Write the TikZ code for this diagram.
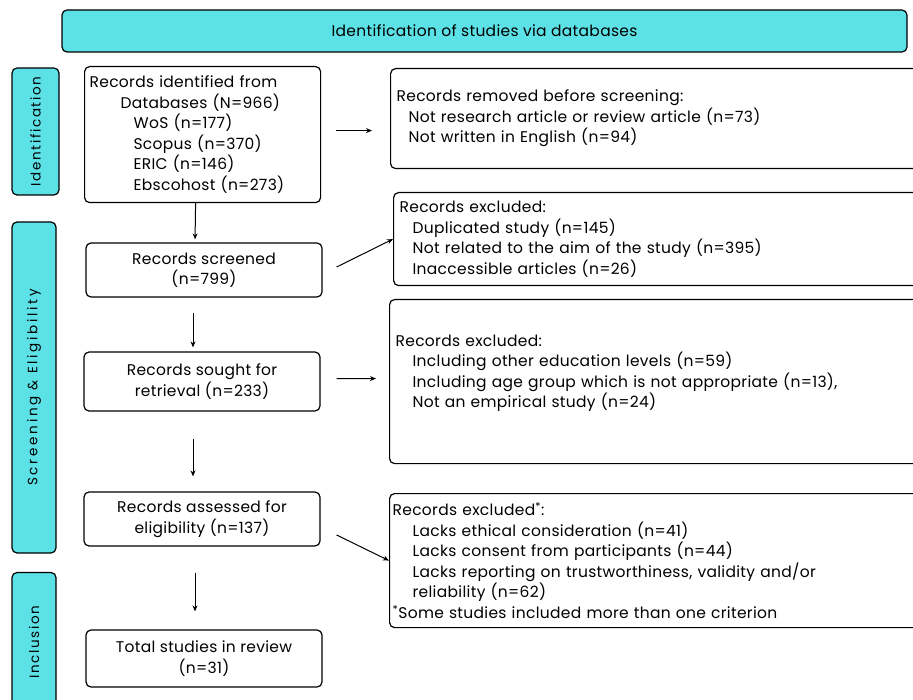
\documentclass[tikz,border=0pt]{standalone}
\usepackage{fontspec}
\setmainfont{Poppins}[LetterSpace=2]
\newfontfamily\sidefont[LetterSpace=12]{Poppins}
\usetikzlibrary{arrows.meta,positioning}
\definecolor{barcyan}{HTML}{5CE1E6}
\newcommand{\ind}[1]{\hspace*{#1pt}}

\begin{document}
\begin{tikzpicture}[x=1pt,y=-1pt,
  box/.style={draw,line width=1.2pt,rounded corners=5pt,fill=white,inner sep=0pt,font=\fontsize{15.5}{20.5}\selectfont},
  leftbox/.style={box,minimum width=236pt,align=center},
  rightbox/.style={box,anchor=north west,minimum width=560pt,text width=548pt,align=left,inner xsep=6pt},
  bar/.style={draw,line width=1.2pt,rounded corners=5pt,fill=barcyan,rotate=90,inner sep=0pt,font=\sidefont\fontsize{13.5}{15}\selectfont},
  arr/.style={-{Stealth[length=6pt,width=5pt]},line width=1pt}]
\useasboundingbox (0,0) rectangle (913,700);

\node [box,fill=barcyan,minimum width=845pt,minimum height=42pt] (banner) at (484.5,31) {Identification of studies via databases};

\node [bar,minimum width=127pt,minimum height=47pt] (idbar) at (35.5,131.5) {Identification};
\node [bar,minimum width=331pt,minimum height=44pt] (scbar) at (34,387.5) {\addfontfeature{LetterSpace=20}Screening \& Eligibility};
\node [bar,minimum width=139pt,minimum height=44pt] (inbar) at (34,642) {Inclusion};

\node [box,anchor=north west,minimum width=236pt,minimum height=136pt,text width=226pt,align=left,inner xsep=5pt] (ident) at (84,66)
  {Records identified from\\ \ind{31}Databases (N=966)\\ \ind{44}WoS (n=177)\\ \ind{44}Scopus (n=370)\\ \ind{44}ERIC (n=146)\\ \ind{44}Ebscohost (n=273)};
\node [leftbox,minimum height=54pt] (screen) at (204,270) {Records screened\\(n=799)};
\node [leftbox,minimum height=59pt] (sought) at (202,381.5) {Records sought for\\retrieval (n=233)};
\node [leftbox,minimum height=54pt] (assess) at (202,519) {Records assessed for\\eligibility (n=137)};
\node [leftbox,minimum height=57pt] (total) at (204,658.5) {Total studies in review\\(n=31)};

\node [rightbox,minimum height=100pt] (removed) at (390,68)
  {Records removed before screening:\\ \ind{12}Not research article or review article (n=73)\\ \ind{12}Not written in English (n=94)};
\node [rightbox,minimum height=93pt] (excl1) at (393,192)
  {Records excluded:\\ \ind{13}Duplicated study (n=145)\\ \ind{13}Not related to the aim of the study (n=395)\\ \ind{13}Inaccessible articles (n=26)};
\node [rightbox,minimum height=164pt] (excl2) at (389,299)
  {Records excluded:\\ \ind{17}Including other education levels (n=59)\\ \ind{17}Including age group which is not appropriate (n=13),\\ \ind{17}Not an empirical study (n=24)\\ ~};
\node [rightbox,minimum height=134pt,inner xsep=3pt,text width=554pt] (excl3) at (389,493)
  {Records excluded\textsuperscript{*}:\\ \ind{20}Lacks ethical consideration (n=41)\\ \ind{20}Lacks consent from participants (n=44)\\ \ind{20}Lacks reporting on trustworthiness, validity and/or\\ \ind{20}reliability (n=62)\\ \textsuperscript{*}Some studies included more than one criterion};

\draw [arr,shorten <=15pt,shorten >=18pt] ([yshift=4pt]ident.east) -- ([yshift=-12pt]removed.west);
\draw [arr,shorten >=3pt] ([xshift=-7pt]ident.south) -- ([xshift=-9pt]screen.north);
\draw [arr] ([xshift=14pt,yshift=3pt]screen.east) -- (excl1.west);
\draw [arr,shorten <=15pt,shorten >=4pt] ([xshift=-11pt]screen.south) -- ([xshift=-9pt]sought.north);
\draw [arr,shorten <=16pt,shorten >=13pt] ([yshift=3pt]sought.east) -- ([yshift=3pt]excl2.west);
\draw [arr,shorten <=27pt,shorten >=15pt] ([xshift=-9pt]sought.south) -- ([xshift=-9pt]assess.north);
\draw [arr] ([xshift=16pt,yshift=-16pt]assess.east) -- (excl3.west);
\draw [arr,shorten <=26pt,shorten >=18pt] ([xshift=-7pt]assess.south) -- ([xshift=-9pt]total.north);
\end{tikzpicture}
\end{document}
